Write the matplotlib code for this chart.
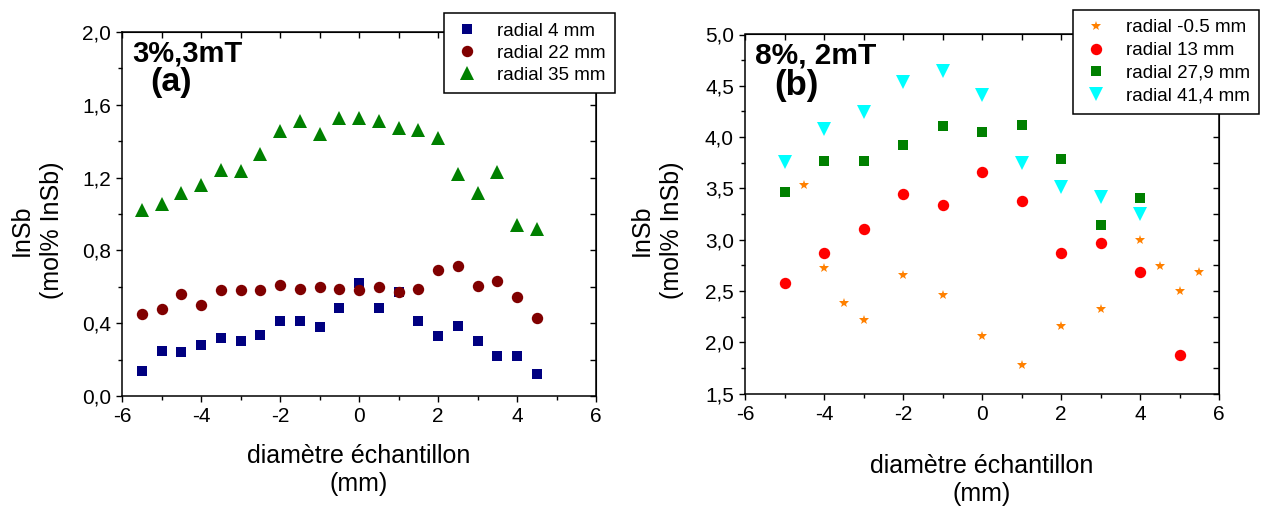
import matplotlib
matplotlib.use("Agg")
import matplotlib.pyplot as plt
from matplotlib.ticker import MultipleLocator, FuncFormatter

plt.rcParams['font.family'] = ['Liberation Sans', 'DejaVu Sans']

# panel (a) : 3%, 3mT
xa = [-5.5, -5.0, -4.5, -4.0, -3.5, -3.0, -2.5, -2.0, -1.5, -1.0, -0.5,
      0.0, 0.5, 1.0, 1.5, 2.0, 2.5, 3.0, 3.5, 4.0, 4.5]
a_r4 = [0.14, 0.25, 0.24, 0.28, 0.32, 0.30, 0.335, 0.41, 0.41, 0.38, 0.485,
        0.62, 0.485, 0.57, 0.41, 0.33, 0.385, 0.30, 0.22, 0.22, 0.12]
a_r22 = [0.45, 0.48, 0.56, 0.50, 0.58, 0.58, 0.58, 0.61, 0.59, 0.60, 0.59,
         0.58, 0.60, 0.57, 0.59, 0.69, 0.715, 0.605, 0.63, 0.545, 0.43]
a_r35 = [1.02, 1.055, 1.115, 1.16, 1.24, 1.235, 1.33, 1.455, 1.51, 1.44, 1.53,
         1.525, 1.51, 1.475, 1.46, 1.415, 1.22, 1.115, 1.23, 0.94, 0.92]

# panel (b) : 8%, 2mT
xb_m05 = [-4.5, -4, -3.5, -3, -2, -1, 0, 1, 2, 3, 4, 4.5, 5, 5.5]
b_m05 = [3.53, 2.72, 2.38, 2.22, 2.66, 2.46, 2.06, 1.78, 2.16, 2.32, 3.0, 2.74, 2.50, 2.68]
xb_13 = [-5, -4, -3, -2, -1, 0, 1, 2, 3, 4, 5]
b_13 = [2.58, 2.865, 3.10, 3.445, 3.34, 3.66, 3.38, 2.865, 2.97, 2.68, 1.88]
xb_279 = [-5, -4, -3, -2, -1, 0, 1, 2, 3, 4]
b_279 = [3.465, 3.77, 3.77, 3.925, 4.105, 4.045, 4.12, 3.785, 3.145, 3.405]
xb_414 = [-5, -4, -3, -2, -1, 0, 1, 2, 3, 4]
b_414 = [3.755, 4.08, 4.245, 4.54, 4.645, 4.415, 3.745, 3.51, 3.42, 3.25]

W, H = 1265, 511
fig = plt.figure(figsize=(W / 100, H / 100), dpi=100)


def box(l, t, r, b):
    return [l / W, 1 - b / H, (r - l) / W, (b - t) / H]


comma = FuncFormatter(lambda v, p: f"{v:.1f}".replace(".", ","))
intfmt = FuncFormatter(lambda v, p: f"{v:.0f}")


def style(ax, ymaj, ymin):
    ax.xaxis.set_major_locator(MultipleLocator(2))
    ax.xaxis.set_minor_locator(MultipleLocator(1))
    ax.yaxis.set_major_locator(MultipleLocator(ymaj))
    ax.yaxis.set_minor_locator(MultipleLocator(ymin))
    ax.xaxis.set_major_formatter(intfmt)
    ax.yaxis.set_major_formatter(comma)
    for s in ax.spines.values():
        s.set_linewidth(1.1)
    ax.tick_params(which='both', direction='out', labelsize=15, pad=4, width=1)
    ax.tick_params(which='major', length=4)
    ax.tick_params(which='minor', length=3)
    # inner ticks on top/right
    axt = ax.secondary_xaxis('top')
    axt.xaxis.set_major_locator(MultipleLocator(2))
    axt.xaxis.set_minor_locator(MultipleLocator(1))
    axt.tick_params(which='both', direction='in', labeltop=False, length=4, width=1)
    axr = ax.secondary_yaxis('right')
    axr.yaxis.set_major_locator(MultipleLocator(ymaj))
    axr.yaxis.set_minor_locator(MultipleLocator(ymin))
    axr.tick_params(which='both', direction='in', labelright=False, length=4, width=1)


ax1 = fig.add_axes(box(122, 32, 596, 396))
ax1.plot(xa, a_r4, 's', color='#000080', ms=7.8, mew=0, label='radial 4 mm')
ax1.plot(xa, a_r22, 'o', color='#800000', ms=8.2, mew=0, label='radial 22 mm')
ax1.plot(xa, a_r35, '^', color='#008000', ms=9.5, mew=0, label='radial 35 mm')
ax1.set_xlim(-6, 6)
ax1.set_ylim(0, 2)
style(ax1, 0.4, 0.2)
leg1 = ax1.legend(loc='upper left', bbox_to_anchor=(444 / W, 1 - 13.5 / H),
                  bbox_transform=fig.transFigure, fontsize=13.5, frameon=True,
                  fancybox=False, edgecolor='black', framealpha=1,
                  handletextpad=0.9, labelspacing=0.26, borderpad=0.5,
                  handlelength=1.4, borderaxespad=0)
leg1.get_frame().set_linewidth(1.1)
leg1.set_zorder(5)

ax2 = fig.add_axes(box(745, 34.5, 1219, 393.5))
ax2.plot(xb_m05, b_m05, '*', color='#FF8000', ms=7.5, mew=0, label='radial -0.5 mm')
ax2.plot(xb_13, b_13, 'o', color='#FF0000', ms=8.2, mew=0, label='radial 13 mm')
ax2.plot(xb_279, b_279, 's', color='#008000', ms=7.2, mew=0, label='radial 27,9 mm')
ax2.plot(xb_414, b_414, 'v', color='#00FFFF', ms=9.5, mew=0, label='radial 41,4 mm')
ax2.set_xlim(-6, 6)
ax2.set_ylim(1.5, 5.0)
style(ax2, 0.5, 0.25)
leg2 = ax2.legend(loc='upper left', bbox_to_anchor=(1073 / W, 1 - 10 / H),
                  bbox_transform=fig.transFigure, fontsize=13.5, frameon=True,
                  fancybox=False, edgecolor='black', framealpha=1,
                  handletextpad=0.9, labelspacing=0.3, borderpad=0.5,
                  handlelength=1.4, borderaxespad=0)
leg2.get_frame().set_linewidth(1.1)
leg2.set_zorder(5)

# axis titles
fig.text(37 / W, 1 - 230 / H, "InSb\n(mol% InSb)", rotation=90, ha='center',
         va='center', multialignment='center', fontsize=18, linespacing=1.35)
fig.text(657 / W, 1 - 230 / H, "InSb\n(mol% InSb)", rotation=90, ha='center',
         va='center', multialignment='center', fontsize=18, linespacing=1.35)
fig.text(359 / W, 1 - 470 / H, "diamètre échantillon\n(mm)", ha='center',
         va='center', multialignment='center', fontsize=18)
fig.text(982 / W, 1 - 480 / H, "diamètre échantillon\n(mm)", ha='center',
         va='center', multialignment='center', fontsize=18)

# panel tags
fig.text(132 / W, 1 - 61 / H, "3%,3mT", fontsize=21, fontweight='bold', va='baseline')
fig.text(150 / W, 1 - 91 / H, "(a)", fontsize=24.5, fontweight='bold', va='baseline')
fig.text(755 / W, 1 - 63 / H, "8%, 2mT", fontsize=21.5, fontweight='bold', va='baseline')
fig.text(774 / W, 1 - 95 / H, "(b)", fontsize=25, fontweight='bold', va='baseline')

fig.savefig("out.png", dpi=100)
